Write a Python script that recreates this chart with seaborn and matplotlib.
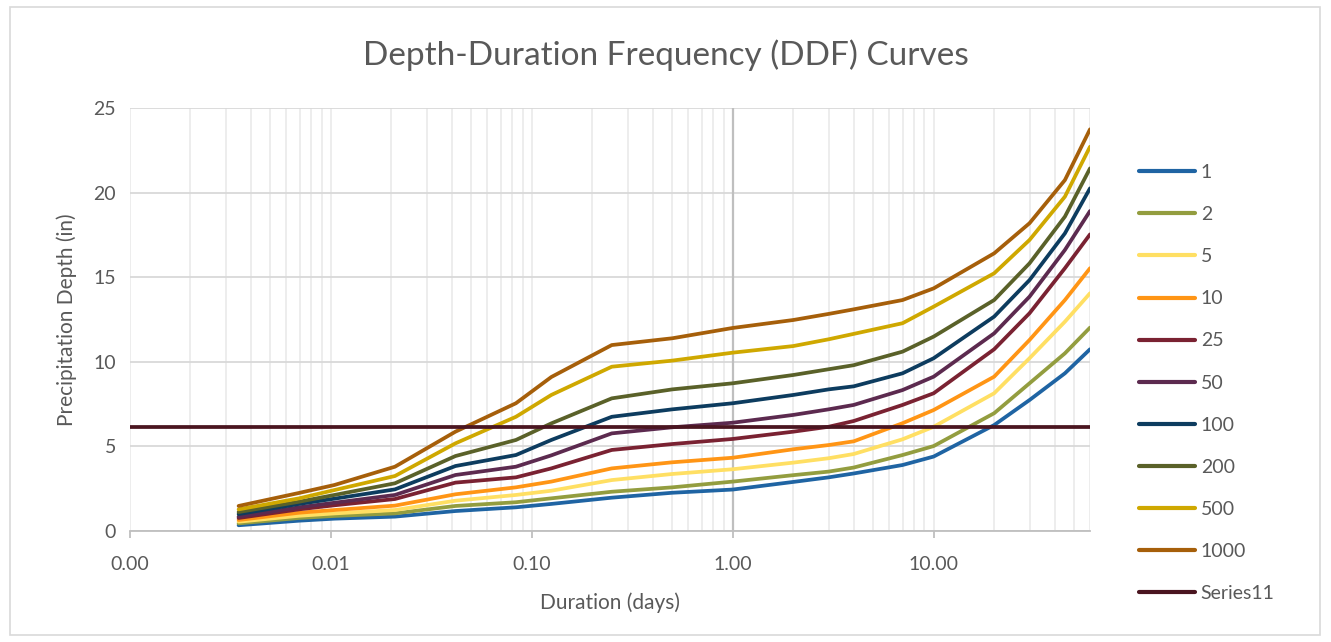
import matplotlib
matplotlib.use("Agg")
import matplotlib.pyplot as plt
from matplotlib.patches import Rectangle
from matplotlib.ticker import LogLocator, FixedLocator, NullFormatter
import numpy as np
import pandas as pd
import seaborn as sns

# durations in days (5 min ... 60 days)
durations = [0.003472, 0.006944, 0.010417, 0.020833, 0.041667, 0.083333, 0.125,
             0.25, 0.5, 1, 2, 3, 4, 7, 10, 20, 30, 45, 60]

# depth (in) per return period
d1 = [0.34, 0.61, 0.73, 0.85, 1.18, 1.40, 1.60, 1.97, 2.26, 2.45, 2.90, 3.17, 3.40, 3.90, 4.40, 6.26, 7.74, 9.32, 10.74]
d2 = [0.45, 0.77, 0.89, 1.04, 1.48, 1.70, 1.93, 2.32, 2.58, 2.92, 3.30, 3.51, 3.75, 4.49, 5.02, 6.96, 8.73, 10.50, 12.02]
d5 = [0.55, 0.90, 1.04, 1.24, 1.79, 2.13, 2.38, 3.01, 3.37, 3.65, 4.04, 4.30, 4.55, 5.42, 6.16, 8.14, 10.21, 12.37, 14.05]
d10 = [0.65, 1.08, 1.24, 1.50, 2.17, 2.58, 2.92, 3.70, 4.06, 4.33, 4.83, 5.08, 5.30, 6.37, 7.15, 9.12, 11.29, 13.65, 15.53]
d25 = [0.77, 1.28, 1.52, 1.89, 2.86, 3.17, 3.70, 4.79, 5.14, 5.44, 5.87, 6.16, 6.50, 7.45, 8.14, 10.74, 12.87, 15.53, 17.53]
d50 = [0.85, 1.40, 1.67, 2.13, 3.31, 3.80, 4.47, 5.77, 6.13, 6.40, 6.86, 7.19, 7.45, 8.33, 9.12, 11.68, 13.85, 16.61, 18.91]
d100 = [1.00, 1.60, 1.91, 2.46, 3.84, 4.49, 5.38, 6.75, 7.19, 7.55, 8.04, 8.37, 8.55, 9.32, 10.21, 12.67, 14.83, 17.59, 20.25]
d200 = [1.12, 1.73, 2.13, 2.82, 4.43, 5.38, 6.36, 7.84, 8.37, 8.73, 9.22, 9.56, 9.80, 10.60, 11.49, 13.65, 15.82, 18.58, 21.43]
d500 = [1.28, 1.93, 2.42, 3.25, 5.18, 6.75, 8.04, 9.71, 10.07, 10.54, 10.93, 11.33, 11.65, 12.28, 13.26, 15.23, 17.20, 19.76, 22.71]
d1000 = [1.48, 2.25, 2.72, 3.80, 5.87, 7.55, 9.10, 10.99, 11.39, 12.00, 12.47, 12.83, 13.10, 13.65, 14.34, 16.41, 18.19, 20.74, 23.74]

# horizontal reference series
s11_x = [0.001, 60]
s11_y = [6.13, 6.13]

series_names = ["1", "2", "5", "10", "25", "50", "100", "200", "500", "1000", "Series11"]
series_vals = [d1, d2, d5, d10, d25, d50, d100, d200, d500, d1000]
colors = ["#1f64a3", "#939d3f", "#ffdf63", "#ff9515", "#7a2232", "#5c2a4f",
          "#0d3c5f", "#5a6129", "#cfa800", "#a65f0a", "#4a1520"]

frames = []
for name, vals in zip(series_names[:-1], series_vals):
    frames.append(pd.DataFrame({"duration": durations, "depth": vals, "series": name}))
frames.append(pd.DataFrame({"duration": s11_x, "depth": s11_y, "series": "Series11"}))
df = pd.concat(frames, ignore_index=True)

sns.set_theme(style="white")
plt.rcParams["font.family"] = ["Lato", "DejaVu Sans"]
txt = "#595959"

fig = plt.figure(figsize=(13.31, 6.42), dpi=100)
ax = fig.add_axes([130 / 1331, 1 - 531 / 642, 960 / 1331, 423 / 642])

sns.lineplot(data=df, x="duration", y="depth", hue="series", hue_order=series_names,
             palette=colors, sort=False, estimator=None, linewidth=2.7, ax=ax, zorder=3)

ax.set_xscale("log")
ax.set_xlim(0.001, 60)
ax.set_ylim(0, 25)
ax.set_yticks([0, 5, 10, 15, 20, 25])
ax.xaxis.set_major_locator(FixedLocator([0.001, 0.01, 0.1, 1, 10]))
ax.set_xticklabels(["0.00", "0.01", "0.10", "1.00", "10.00"])
ax.xaxis.set_minor_locator(LogLocator(base=10, subs=np.arange(2, 10)))
ax.xaxis.set_minor_formatter(NullFormatter())

ax.grid(axis="y", which="major", color="#d9d9d9", linewidth=1.3, zorder=0)
ax.grid(axis="x", which="both", color="#ececec", linewidth=1.3, zorder=0)
ax.axvline(1, color="#bfbfbf", linewidth=1.6, zorder=1)

for s in ["left", "right", "top"]:
    ax.spines[s].set_visible(False)
ax.spines["bottom"].set_color("#bfbfbf")
ax.spines["bottom"].set_linewidth(1.3)
ax.tick_params(axis="x", which="major", direction="out", length=5, color="#bfbfbf",
               width=1.3, labelsize=14, labelcolor=txt, pad=13, bottom=True)
ax.tick_params(axis="x", which="minor", length=0)
ax.tick_params(axis="y", length=0, labelsize=14, labelcolor=txt, pad=10)

ax.set_xlabel("Duration (days)", fontsize=15, color=txt, labelpad=14)
ax.set_ylabel("Precipitation Depth (in)", fontsize=15, color=txt, labelpad=12)
fig.text(0.5, 1 - 55 / 642, "Depth-Duration Frequency (DDF) Curves",
         ha="center", va="center", fontsize=24, color=txt)

sns.move_legend(ax, "center left", bbox_to_anchor=(1121 / 1331, 1 - 383 / 642),
                bbox_transform=fig.transFigure, frameon=False, title=None,
                fontsize=14, handlelength=2.9, labelspacing=1.29, handletextpad=0.3)
for t in ax.get_legend().get_texts():
    t.set_color(txt)
for h in ax.get_legend().legend_handles:
    h.set_linewidth(3)

fig.patches.append(Rectangle((10 / 1331, 7 / 642), 1310 / 1331, 628 / 642,
                             transform=fig.transFigure, fill=False,
                             edgecolor="#d9d9d9", linewidth=1.2))

fig.savefig("out.png", dpi=100)
